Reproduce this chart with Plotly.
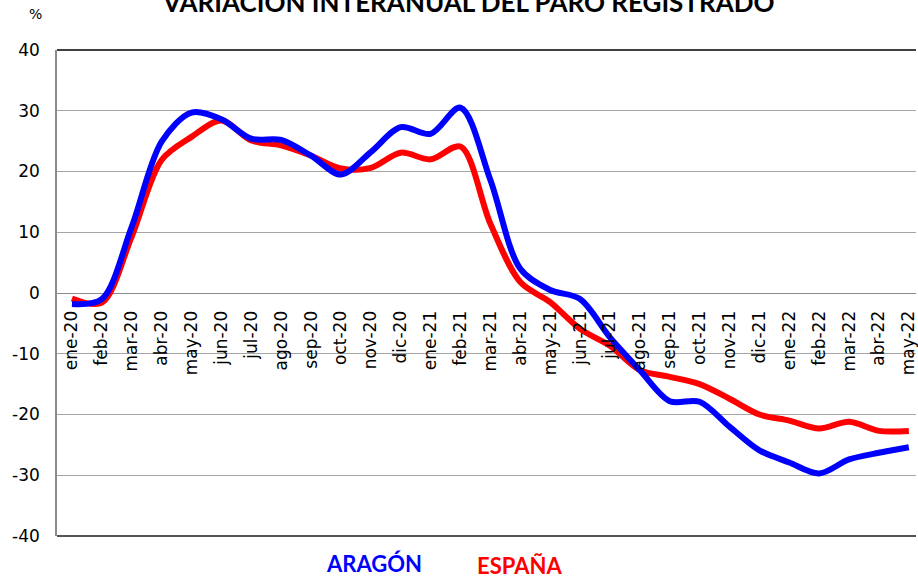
import plotly.graph_objects as go

categories = ['ene-20', 'feb-20', 'mar-20', 'abr-20', 'may-20', 'jun-20', 'jul-20', 'ago-20',
              'sep-20', 'oct-20', 'nov-20', 'dic-20', 'ene-21', 'feb-21', 'mar-21', 'abr-21',
              'may-21', 'jun-21', 'jul-21', 'ago-21', 'sep-21', 'oct-21', 'nov-21', 'dic-21',
              'ene-22', 'feb-22', 'mar-22', 'abr-22', 'may-22']
aragon = [-1.8, -1.0, 10.9, 24.9, 29.7, 28.6, 25.4, 25.2, 22.6, 19.5, 23.2, 27.3, 26.2, 30.5,
          18.6, 4.0, 0.5, -1.0, -7.3, -12.7, -17.8, -17.9, -22.0, -25.9, -27.9, -29.7, -27.4,
          -26.3, -25.4]
espana = [-0.9, -1.6, 9.3, 21.9, 25.7, 28.4, 25.1, 24.3, 22.6, 20.5, 20.6, 23.1, 22.0, 24.1,
          11.4, 1.8, -1.5, -5.9, -8.7, -12.7, -13.8, -15.0, -17.4, -20.0, -21.0, -22.3, -21.2,
          -22.7, -22.7]
y_ticks = [-40, -30, -20, -10, 0, 10, 20, 30, 40]
y_tick_labels = ['-40', '-30', '-20', '-10', '0', '10', '20', '30', '40']

title_text = 'VARIACIÓN INTERANUAL DEL PARO REGISTRADO'
name_aragon = 'ARAGÓN'
name_espana = 'ESPAÑA'

fig = go.Figure()
fig.add_trace(go.Scatter(x=categories, y=espana, mode='lines', name=name_espana,
                         line=dict(color='#ff0000', width=6, shape='spline', smoothing=0.9),
                         hoverinfo='skip'))
fig.add_trace(go.Scatter(x=categories, y=aragon, mode='lines', name=name_aragon,
                         line=dict(color='#0000ff', width=6, shape='spline', smoothing=0.9),
                         hoverinfo='skip'))

fig.update_layout(
    width=918, height=579,
    margin=dict(l=57, r=0, t=50, b=43),
    paper_bgcolor='white', plot_bgcolor='white',
    showlegend=False,
    font=dict(family='DejaVu Sans', color='black'),
    xaxis=dict(
        type='category', categoryorder='array', categoryarray=categories,
        range=[-0.5, 28.24],
        anchor='free', position=0.5,
        showgrid=False, zeroline=False, showline=False,
        tickangle=-90, ticks='outside', ticklen=10, tickcolor='rgba(0,0,0,0)',
        tickfont=dict(family='DejaVu Sans', size=17, color='black'),
    ),
    yaxis=dict(
        range=[-40, 40], tickvals=y_ticks, ticktext=y_tick_labels,
        showgrid=True, gridcolor='#a6a6a6', gridwidth=1,
        zeroline=True, zerolinecolor='#8c8c8c', zerolinewidth=1,
        showline=True, linecolor='#8c8c8c', linewidth=1.5,
        ticks='outside', ticklen=12, tickcolor='rgba(0,0,0,0)',
        tickfont=dict(family='DejaVu Sans', size=17, color='black'),
    ),
)

# top border (black) and bottom border (dark gray)
fig.add_shape(type='line', xref='paper', yref='paper', x0=0, x1=1, y0=1, y1=1,
              line=dict(color='black', width=1.5), layer='below')
fig.add_shape(type='line', xref='paper', yref='paper', x0=0, x1=1, y0=0, y1=0,
              line=dict(color='#555555', width=2), layer='below')

fig.add_annotation(text=title_text, xref='paper', yref='paper', x=0.4785, y=1.0,
                   yshift=30, xanchor='center', yanchor='bottom', showarrow=False,
                   font=dict(family='Lato', size=26, color='black', weight='bold'))
fig.add_annotation(text='%', xref='paper', yref='paper', x=-0.0256, y=1.0, yshift=26,
                   xanchor='center', yanchor='bottom', showarrow=False,
                   font=dict(family='DejaVu Sans', size=14, color='black'))
fig.add_annotation(text=name_aragon, xref='paper', yref='paper', x=0.369, y=-0.0556,
                   xanchor='center', yanchor='middle', showarrow=False,
                   font=dict(family='Lato', size=22, color='#0000ff', weight='bold'))
fig.add_annotation(text=name_espana, xref='paper', yref='paper', x=0.538, y=-0.0617,
                   xanchor='center', yanchor='middle', showarrow=False,
                   font=dict(family='Lato', size=22, color='#ff0000', weight='bold'))

fig.write_html('out.html', config={'displayModeBar': False},
               post_script="document.body.style.margin='0';")
